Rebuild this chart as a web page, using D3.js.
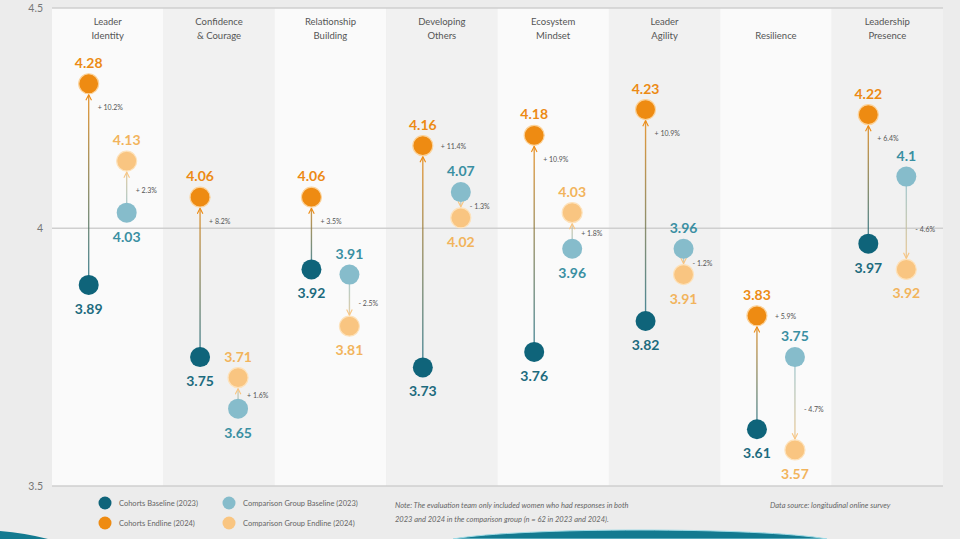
<!DOCTYPE html>
<html>
<head>
<meta charset="utf-8">
<script src="https://cdn.jsdelivr.net/npm/d3@7"></script>
<style>
  html, body { margin: 0; padding: 0; background: #ececec; }
  svg { display: block; font-family: Lato, "Open Sans", sans-serif; }
</style>
</head>
<body>
<svg id="chart" width="960" height="539"></svg>
<script>
// ---------- data ----------
const categories = ["Leader Identity", "Confidence & Courage", "Relationship Building", "Developing Others",
                    "Ecosystem Mindset", "Leader Agility", "Resilience", "Leadership Presence"];
const titleLines = [["Leader", "Identity"], ["Confidence", "& Courage"], ["Relationship", "Building"],
                    ["Developing", "Others"], ["Ecosystem", "Mindset"], ["Leader", "Agility"],
                    ["Resilience"], ["Leadership", "Presence"]];
const cohortBaseline = [3.89, 3.75, 3.92, 3.73, 3.76, 3.82, 3.61, 3.97];
const cohortEndline  = [4.28, 4.06, 4.06, 4.16, 4.18, 4.23, 3.83, 4.22];
const compBaseline   = [4.03, 3.65, 3.91, 4.07, 3.96, 3.96, 3.75, 4.10];
const compEndline    = [4.13, 3.71, 3.81, 4.02, 4.03, 3.91, 3.57, 3.92];
const cohortChange   = ["+ 10.2%", "+ 8.2%", "+ 3.5%", "+ 11.4%", "+ 10.9%", "+ 10.9%", "+ 5.9%", "+ 6.4%"];
const compChange     = ["+ 2.3%", "+ 1.6%", "- 2.5%", "- 1.3%", "+ 1.8%", "- 1.2%", "- 4.7%", "- 4.6%"];
const yTicks = [3.5, 4, 4.5];
const legendItems = ["Cohorts Baseline (2023)", "Cohorts Endline (2024)",
                     "Comparison Group Baseline (2023)", "Comparison Group Endline (2024)"];
const noteLines = ["Note: The evaluation team only included women who had responses in both",
                   "2023 and 2024 in the comparison group (n = 62 in 2023 and 2024)."];
const sourceText = "Data source: longitudinal online survey";

// ---------- styles ----------
const col = {
  cohortBase: "#0f647a", cohortEnd: "#ee8b12",
  compBase: "#86bccb", compEnd: "#f9c581",
  cohortBaseText: "#1d6b7e", compBaseText: "#3a8fa2",
  cohortEndText: "#ec8a14", compEndText: "#f2b45c"
};
const R = 10;

const svg = d3.select("#chart");
const plotLeft = 52, plotRight = 943, plotTop = 8, plotBottom = 486;

const x = d3.scaleBand().domain(categories).range([plotLeft, plotRight]).padding(0);
// plot top is compressed: the frame labelled 4.5 sits at the top edge
const y = d3.scaleLinear().domain([3.5, 4.425, 4.5]).range([plotBottom, plotTop + 1, plotTop]);

// ---------- background bands ----------
svg.append("g").selectAll("rect").data(categories).join("rect")
  .attr("x", d => x(d)).attr("y", plotTop)
  .attr("width", x.bandwidth()).attr("height", plotBottom - plotTop)
  .attr("fill", (d, i) => i % 2 === 0 ? "#fafafa" : "#f1f1f1");

// ---------- grid / axis ----------
svg.append("g").selectAll("line").data(yTicks).join("line")
  .attr("x1", plotLeft).attr("x2", plotRight)
  .attr("y1", d => y(d)).attr("y2", d => y(d))
  .attr("stroke", "#cfcfcf").attr("stroke-width", 1.5);

const yAxis = svg.append("g").attr("transform", `translate(${plotLeft},0)`)
  .call(d3.axisLeft(y).tickValues(yTicks).tickSize(0).tickPadding(9).tickFormat(d3.format("")));
yAxis.select(".domain").remove();
yAxis.selectAll("text").attr("fill", "#777").attr("font-size", 10.5)
  .attr("font-family", "Lato, sans-serif");

// ---------- titles ----------
const titles = svg.append("g");
categories.forEach((c, i) => {
  const lines = titleLines[i];
  lines.forEach((t, j) => {
    const row = lines.length === 1 ? 1 : j;
    titles.append("text")
      .attr("x", x(c) + x.bandwidth() / 2)
      .attr("y", 25 + row * 14)
      .attr("text-anchor", "middle")
      .attr("font-size", 9.5).attr("fill", "#555")
      .text(t);
  });
});

// ---------- gradients & arrow markers ----------
const defs = svg.append("defs");
[["cohort", col.cohortEnd], ["comp", col.compEnd]].forEach(([k, c]) => {
  defs.append("marker").attr("id", "arrow-" + k)
    .attr("viewBox", "0 0 10 10").attr("refX", 9).attr("refY", 5)
    .attr("markerWidth", 5).attr("markerHeight", 5).attr("orient", "auto")
    .append("path").attr("d", "M1,1 L9,5 L1,9").attr("fill", "none")
    .attr("stroke", c).attr("stroke-width", 1.6);
});

// ---------- series ----------
const series = [
  { key: "cohort", base: cohortBaseline, end: cohortEndline, change: cohortChange, dx: -19,
    baseFill: col.cohortBase, endFill: col.cohortEnd, baseText: col.cohortBaseText, endText: col.cohortEndText,
    endStroke: "#fbd39c" },
  { key: "comp", base: compBaseline, end: compEndline, change: compChange, dx: 19,
    baseFill: col.compBase, endFill: col.compEnd, baseText: col.compBaseText, endText: col.compEndText,
    endStroke: "#fde2bb" }
];

const marks = svg.append("g");
series.forEach(s => {
  categories.forEach((c, i) => {
    const cx = x(c) + x.bandwidth() / 2 + s.dx;
    const yb = y(s.base[i]), ye = y(s.end[i]);
    const dir = ye < yb ? -1 : 1;          // direction from baseline to endline
    const gid = `g-${s.key}-${i}`;
    const g = defs.append("linearGradient").attr("id", gid)
      .attr("gradientUnits", "userSpaceOnUse")
      .attr("x1", cx).attr("x2", cx).attr("y1", yb).attr("y2", ye);
    g.append("stop").attr("offset", "0%").attr("stop-color", s.baseFill).attr("stop-opacity", 0.75);
    g.append("stop").attr("offset", "100%").attr("stop-color", s.endFill).attr("stop-opacity", 0.85);

    marks.append("line")
      .attr("x1", cx).attr("x2", cx + 0.01)
      .attr("y1", yb).attr("y2", ye - dir * (R + 1))
      .attr("stroke", `url(#${gid})`).attr("stroke-width", 1.4)
      .attr("marker-end", `url(#arrow-${s.key})`);

    marks.append("circle").attr("cx", cx).attr("cy", yb).attr("r", R)
      .attr("fill", s.baseFill);
    marks.append("circle").attr("cx", cx).attr("cy", ye).attr("r", R)
      .attr("fill", s.endFill).attr("stroke", s.endStroke).attr("stroke-width", 1.2);

    // value labels: above the higher point, below the lower point
    const endAbove = ye < yb;
    const fmt = v => String(+v.toFixed(2));
    marks.append("text").attr("x", cx).attr("text-anchor", "middle")
      .attr("y", endAbove ? yb + 29 : yb - 16)
      .attr("font-size", 14).attr("font-weight", 700).attr("fill", s.baseText)
      .text(fmt(s.base[i]));
    marks.append("text").attr("x", cx).attr("text-anchor", "middle")
      .attr("y", endAbove ? ye - 16 : ye + 29)
      .attr("font-size", 14).attr("font-weight", 700).attr("fill", s.endText)
      .text(fmt(s.end[i]));

    // change label
    const upper = Math.min(yb, ye), lower = Math.max(yb, ye);
    let py, px = cx + 9;
    if (s.key === "cohort") {
      py = upper + 24;
      // avoid the value label sitting above the neighbouring comparison point
      const cu = Math.min(y(compBaseline[i]), y(compEndline[i]));
      if (py > cu - 34 && py < cu - 8) { py = upper + 1; px = cx + R + 8; }
    } else {
      py = upper + 0.57 * (lower - upper);
    }
    marks.append("text").attr("x", px).attr("y", py + 2.5)
      .attr("font-size", 7).attr("fill", "#555")
      .text(s.change[i]);
  });
});

// ---------- legend & notes ----------
const legFills = [col.cohortBase, col.cohortEnd, col.compBase, col.compEnd];
const legPos = [[105, 503], [105, 523], [229, 503], [229, 523]];
const leg = svg.append("g");
legendItems.forEach((t, i) => {
  leg.append("circle").attr("cx", legPos[i][0]).attr("cy", legPos[i][1]).attr("r", 6.5)
    .attr("fill", legFills[i]);
  leg.append("text").attr("x", legPos[i][0] + 14).attr("y", legPos[i][1] + 2.8)
    .attr("font-size", 7.5).attr("fill", "#666").text(t);
});
noteLines.forEach((t, i) => {
  svg.append("text").attr("x", 395).attr("y", 508 + i * 14)
    .attr("font-size", 7.5).attr("font-style", "italic").attr("fill", "#666").text(t);
});
svg.append("text").attr("x", 770).attr("y", 508)
  .attr("font-size", 7.5).attr("font-style", "italic").attr("fill", "#666").text(sourceText);

// ---------- decorative footer waves ----------
svg.append("path").attr("d", "M453,539 C520,527 760,527 827,539 Z")
  .attr("fill", "#137a90").attr("stroke", "#9fdbe6").attr("stroke-width", 1);
svg.append("path").attr("d", "M0,531 Q25,533 48,539 L0,539 Z")
  .attr("fill", "#137a90");
</script>
</body>
</html>
